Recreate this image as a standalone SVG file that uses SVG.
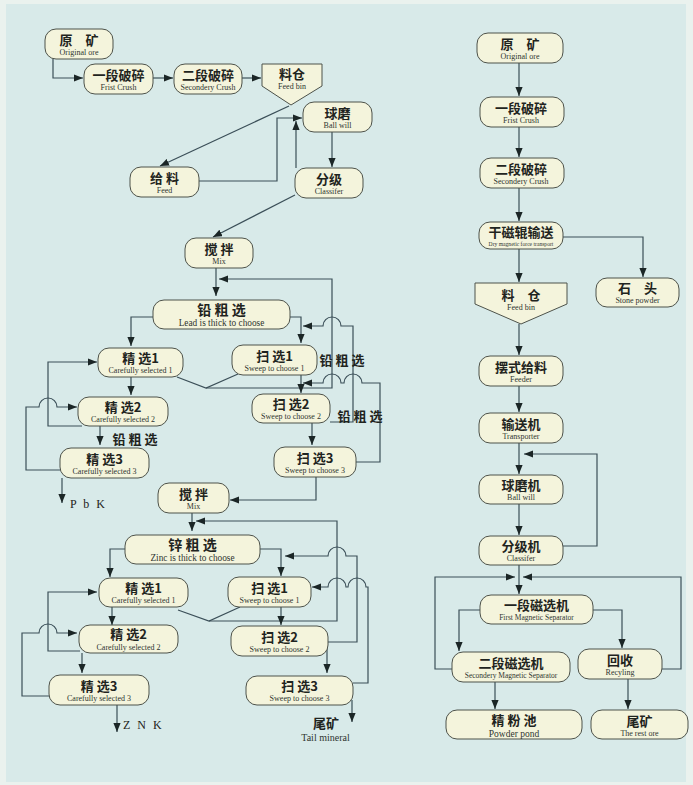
<svg xmlns="http://www.w3.org/2000/svg" width="693" height="785" viewBox="0 0 693 785">
<style>
.n rect,.n path{fill:#f4f4dc;stroke:#4d524a;stroke-width:1}
.zh{font-family:"Noto Sans CJK SC","Noto Sans CJK TC",sans-serif;font-weight:bold;font-size:13px;fill:#1f2420;text-anchor:middle}
.en{font-family:"Liberation Serif",serif;font-size:8px;fill:#2f3530;text-anchor:middle}
.lbl{font-family:"Noto Sans CJK SC",sans-serif;font-weight:bold;font-size:13px;fill:#1f2420;text-anchor:middle}
.lat{font-family:"Liberation Serif",serif;font-size:12px;fill:#1f2420}
.c path{fill:none;stroke:#3b4f58;stroke-width:1.2}
.c path.a{marker-end:url(#ar)}
</style>
<defs>
<marker id="ar" viewBox="0 0 10 8" refX="10" refY="4" markerWidth="9" markerHeight="7.2" markerUnits="userSpaceOnUse" orient="auto">
<path d="M0,0 L10,4 L0,8 Z" fill="#1b2626"/>
</marker>
</defs>
<rect x="0" y="0" width="693" height="785" fill="#eaf2ee"/>
<rect x="6" y="4" width="680" height="778" fill="#d8eae9"/>

<g class="c" id="connectors">
<path class="a" d="M53,59 V78 H83"/>
<path class="a" d="M153,78 H173"/>
<path class="a" d="M242,78 H261"/>
<path class="a" d="M289,106 L160,166"/>
<path class="a" d="M199,181 H277 V118 H302"/>
<path class="a" d="M296,168 V121"/>
<path class="a" d="M332,132 V167"/>
<path class="a" d="M295,195 L213,237"/>
<path class="a" d="M216,268 V296"/>
<path class="a" d="M206,388 H332 V279 H219"/>
<path d="M177,377 L206,388 L238,374"/>
<path class="a" d="M153,317 H131 V346"/>
<path class="a" d="M290,317 H301 V343"/>
<path class="a" d="M330,422 H353 V326 H341 A9,9 0 0 0 323,326 H303"/>
<path class="a" d="M301,375 V393"/>
<path class="a" d="M356,462 H380 V383 H362 A9,9 0 0 0 344,383 H341 A9,9 0 0 0 323,383 H303"/>
<path class="a" d="M312,423 V445"/>
<path class="a" d="M316,477 V500 H230"/>
<path class="a" d="M131,377 V395"/>
<path class="a" d="M82,426 H48 V362 H97"/>
<path class="a" d="M60,470 H26 V407 H39 A9,9 0 0 1 57,407 H77"/>
<path class="a" d="M100,426 V445"/>
<path class="a" d="M62,478 V503"/>
<path class="a" d="M192,513 V531"/>
<path class="a" d="M209,621 H337 V521 H196"/>
<path d="M178,610 L209,621 L240,607"/>
<path class="a" d="M125,549 H110 V577"/>
<path class="a" d="M260,549 H281 V576"/>
<path class="a" d="M327,642 H357 V556 H346 A9,9 0 0 0 328,556 H285"/>
<path class="a" d="M281,607 V625"/>
<path class="a" d="M353,683 H368 V587 H366 A9,9 0 0 0 348,587 H346 A9,9 0 0 0 328,587 H312"/>
<path class="a" d="M327,645 V673"/>
<path class="a" d="M352,700 V722"/>
<path class="a" d="M112,607 V625"/>
<path class="a" d="M80,651 H48 V592 H97"/>
<path class="a" d="M49,696 H22 V633 H39 A9,9 0 0 1 57,633 H77"/>
<path class="a" d="M82,653 V673"/>
<path class="a" d="M117,705 V732"/>
<path class="a" d="M519,63 V96"/>
<path class="a" d="M519,127 V157"/>
<path class="a" d="M519,188 V221"/>
<path class="a" d="M519,249 V282"/>
<path class="a" d="M563,237 H643 V277"/>
<path class="a" d="M519,324 V355"/>
<path class="a" d="M519,386 V412"/>
<path class="a" d="M519,443 V474"/>
<path class="a" d="M563,546 H597 V454 H524"/>
<path class="a" d="M519,504 V535"/>
<path class="a" d="M519,565 V594"/>
<path class="a" d="M452,669 H435 V577 H515"/>
<path class="a" d="M662,669 H681 V577 H523"/>
<path class="a" d="M480,610 H459 V651"/>
<path class="a" d="M593,610 H622 V648"/>
<path class="a" d="M495,682 V709"/>
<path class="a" d="M628,679 V709"/>
</g>

<g class="n" id="L_ore"><rect x="45" y="29" width="68" height="30" rx="11"/><text class="zh" x="79" y="45">原　矿</text><text class="en" x="79" y="55">Original ore</text></g>
<g class="n" id="L_crush1"><rect x="84" y="64" width="69" height="30" rx="11"/><text class="zh" x="118.5" y="80">一段破碎</text><text class="en" x="118.5" y="90">Frist Crush</text></g>
<g class="n" id="L_crush2"><rect x="174" y="64" width="68" height="30" rx="11"/><text class="zh" x="208" y="80">二段破碎</text><text class="en" x="208" y="90">Secondery Crush</text></g>
<g class="n" id="L_feedbin"><path d="M262,64 L322,64 L322,86 L291,105 L262,86 Z"/><text class="zh" x="292" y="79">料仓</text><text class="en" x="292" y="89">Feed bin</text></g>
<g class="n" id="L_ballmill"><rect x="303" y="102" width="69" height="30" rx="11"/><text class="zh" x="337.5" y="118">球磨</text><text class="en" x="337.5" y="128">Ball will</text></g>
<g class="n" id="L_feed"><rect x="130" y="167" width="69" height="30" rx="11"/><text class="zh" x="164.5" y="183">给 料</text><text class="en" x="164.5" y="193">Feed</text></g>
<g class="n" id="L_classifier"><rect x="295" y="168" width="68" height="30" rx="11"/><text class="zh" x="329" y="184">分级</text><text class="en" x="329" y="194">Classifer</text></g>
<g class="n" id="L_mix1"><rect x="185" y="238" width="68" height="30" rx="11"/><text class="zh" x="219" y="254">搅 拌</text><text class="en" x="219" y="264">Mix</text></g>
<g class="n" id="L_leadrough"><rect x="153" y="300" width="137" height="29" rx="11"/><text class="zh" x="221.5" y="315" style="font-size:14px">铅 粗 选</text><text class="en" x="221.5" y="325.5" style="font-size:9.3px">Lead is thick to choose</text></g>
<g class="n" id="L_clean1"><rect x="98" y="348" width="85" height="29" rx="11"/><text class="zh" x="140.5" y="363">精 选1</text><text class="en" x="140.5" y="373">Carefully selected 1</text></g>
<g class="n" id="L_sweep1"><rect x="232" y="345" width="85" height="30" rx="11"/><text class="zh" x="274.5" y="361">扫 选1</text><text class="en" x="274.5" y="371">Sweep to choose 1</text></g>
<g class="n" id="L_clean2"><rect x="78" y="397" width="90" height="29" rx="11"/><text class="zh" x="123" y="412">精 选2</text><text class="en" x="123" y="422">Carefully selected 2</text></g>
<g class="n" id="L_sweep2"><rect x="252" y="394" width="78" height="29" rx="11"/><text class="zh" x="291" y="409">扫 选2</text><text class="en" x="291" y="419">Sweep to choose 2</text></g>
<g class="n" id="L_clean3"><rect x="60" y="448" width="89" height="30" rx="11"/><text class="zh" x="104.5" y="464">精 选3</text><text class="en" x="104.5" y="474">Carefully selected 3</text></g>
<g class="n" id="L_sweep3"><rect x="274" y="447" width="82" height="30" rx="11"/><text class="zh" x="315" y="463">扫 选3</text><text class="en" x="315" y="473">Sweep to choose 3</text></g>
<g class="n" id="L_mix2"><rect x="158" y="483" width="71" height="30" rx="11"/><text class="zh" x="193.5" y="499">搅 拌</text><text class="en" x="193.5" y="509">Mix</text></g>
<g class="n" id="Z_rough"><rect x="125" y="535" width="135" height="29" rx="11"/><text class="zh" x="192.5" y="550" style="font-size:14px">锌 粗 选</text><text class="en" x="192.5" y="560.5" style="font-size:9.3px">Zinc is thick to choose</text></g>
<g class="n" id="Z_clean1"><rect x="99" y="578" width="89" height="29" rx="11"/><text class="zh" x="143.5" y="593">精 选1</text><text class="en" x="143.5" y="603">Carefully selected 1</text></g>
<g class="n" id="Z_sweep1"><rect x="228" y="577" width="83" height="30" rx="11"/><text class="zh" x="269.5" y="593">扫 选1</text><text class="en" x="269.5" y="603">Sweep to choose 1</text></g>
<g class="n" id="Z_clean2"><rect x="79" y="625" width="99" height="28" rx="11"/><text class="zh" x="128.5" y="639">精 选2</text><text class="en" x="128.5" y="650">Carefully selected 2</text></g>
<g class="n" id="Z_sweep2"><rect x="231" y="626" width="97" height="30" rx="11"/><text class="zh" x="279.5" y="642">扫 选2</text><text class="en" x="279.5" y="652">Sweep to choose 2</text></g>
<g class="n" id="Z_clean3"><rect x="49" y="675" width="100" height="30" rx="11"/><text class="zh" x="99" y="691">精 选3</text><text class="en" x="99" y="701">Carefully selected 3</text></g>
<g class="n" id="Z_sweep3"><rect x="246" y="676" width="107" height="29" rx="11"/><text class="zh" x="299.5" y="691">扫 选3</text><text class="en" x="299.5" y="701">Sweep to choose 3</text></g>

<g id="labels">
<text class="lbl" x="342" y="365">铅 粗 选</text>
<text class="lbl" x="360" y="421">铅 粗 选</text>
<text class="lbl" x="135" y="444">铅 粗 选</text>
<text class="lat" x="70" y="508" style="letter-spacing:2px">P b K</text>
<text class="lat" x="123" y="729" style="letter-spacing:2px">Z N K</text>
<text class="zh" x="326" y="728">尾矿</text>
<text class="en" x="325.5" y="741" style="font-size:10px">Tail mineral</text>
</g>

<g class="n" id="R_ore"><rect x="477" y="33" width="86" height="30" rx="11"/><text class="zh" x="520" y="49">原　矿</text><text class="en" x="520" y="59">Original ore</text></g>
<g class="n" id="R_crush1"><rect x="480" y="97" width="84" height="30" rx="11"/><text class="zh" x="521" y="113">一段破碎</text><text class="en" x="521" y="123">Frist Crush</text></g>
<g class="n" id="R_crush2"><rect x="480" y="158" width="84" height="30" rx="11"/><text class="zh" x="521" y="174">二段破碎</text><text class="en" x="521" y="184">Secondery Crush</text></g>
<g class="n" id="R_drymag"><rect x="479" y="222" width="84" height="27" rx="11"/><text class="zh" x="521" y="237">干磁辊输送</text><text class="en" x="521" y="245.5" style="font-size:5.6px">Dry magnetic force transport</text></g>
<g class="n" id="R_stone"><rect x="596" y="278" width="83" height="29" rx="11"/><text class="zh" x="637.5" y="293">石　头</text><text class="en" x="637.5" y="303">Stone powder</text></g>
<g class="n" id="R_feedbin"><path d="M475,283 L567,283 L567,304 L521,324 L475,304 Z"/><text class="zh" x="521" y="300">料　仓</text><text class="en" x="521" y="310">Feed bin</text></g>
<g class="n" id="R_feeder"><rect x="479" y="356" width="84" height="30" rx="11"/><text class="zh" x="521" y="372">摆式给料</text><text class="en" x="521" y="382">Feeder</text></g>
<g class="n" id="R_transporter"><rect x="479" y="413" width="84" height="30" rx="11"/><text class="zh" x="521" y="429">输送机</text><text class="en" x="521" y="439">Transporter</text></g>
<g class="n" id="R_ballmill"><rect x="479" y="475" width="84" height="29" rx="11"/><text class="zh" x="521" y="490">球磨机</text><text class="en" x="521" y="500">Ball will</text></g>
<g class="n" id="R_classifier"><rect x="479" y="536" width="84" height="29" rx="11"/><text class="zh" x="521" y="551">分级机</text><text class="en" x="521" y="561">Classifer</text></g>
<g class="n" id="R_mag1"><rect x="480" y="595" width="113" height="29" rx="11"/><text class="zh" x="536.5" y="610">一段磁选机</text><text class="en" x="536.5" y="620" style="font-size:7.5px">First Magnetic Separator</text></g>
<g class="n" id="R_mag2"><rect x="452" y="652" width="118" height="30" rx="11"/><text class="zh" x="511" y="668">二段磁选机</text><text class="en" x="511" y="678" style="font-size:7.5px">Secondery Magnetic Separator</text></g>
<g class="n" id="R_recycle"><rect x="578" y="649" width="84" height="30" rx="11"/><text class="zh" x="620" y="665">回收</text><text class="en" x="620" y="675">Recyling</text></g>
<g class="n" id="R_powder"><rect x="446" y="710" width="136" height="29" rx="11"/><text class="zh" x="514" y="724.5">精 粉 池</text><text class="en" x="514" y="736.5" style="font-size:9.5px">Powder pond</text></g>
<g class="n" id="R_tail"><rect x="591" y="710" width="97" height="29" rx="11"/><text class="zh" x="639.5" y="726">尾矿</text><text class="en" x="639.5" y="736">The rest ore</text></g>
</svg>
